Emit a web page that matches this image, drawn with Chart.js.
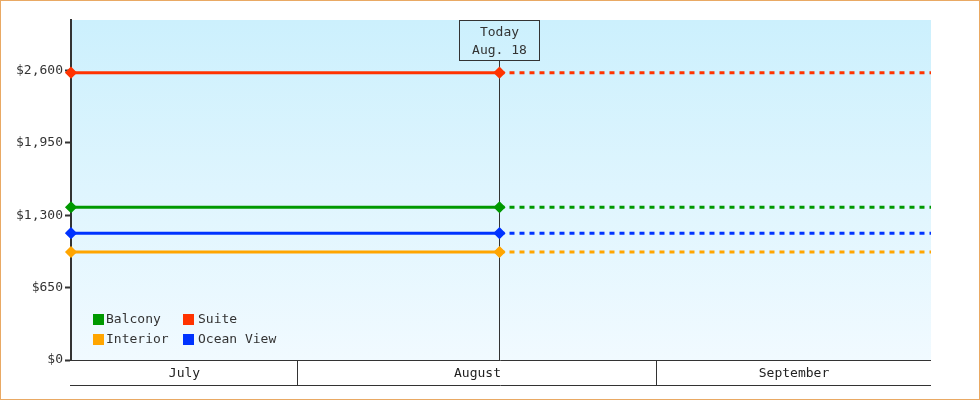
<!DOCTYPE html>
<html>
<head>
<meta charset="utf-8">
<script src="https://cdn.jsdelivr.net/npm/chart.js@4"></script>
<style>
html,body{margin:0;padding:0;background:#fff;}
#wrap{width:980px;height:400px;position:relative;}
</style>
</head>
<body>
<div id="wrap"><canvas id="c" width="980" height="400"></canvas></div>
<script>
// Days counted from July 1 (July 1 = 0)
const seriesNames = ['Balcony', 'Suite', 'Interior', 'Ocean View'];
const seriesColors = ['#009900', '#ff3300', '#ffa500', '#0033ff'];
const seriesValues = [1373, 2582, 970, 1140];
const rangeStartDay = 11.4;
const todayDay = 48.4;
const rangeEndDay = 85.66;
const monthNames = ['July', 'August', 'September'];
const monthStartDays = [0, 31, 62, 92];
const todayLabel = ['Today', 'Aug. 18'];
const yTicks = [0, 650, 1300, 1950, 2600];
const yMax = 3055;

const FONT = '"DejaVu Sans Mono", monospace';

const datasets = seriesNames.map((name, i) => ({
  label: name,
  data: [
    {x: rangeStartDay, y: seriesValues[i]},
    {x: todayDay, y: seriesValues[i]},
    {x: rangeEndDay, y: seriesValues[i]}
  ],
  borderColor: seriesColors[i],
  backgroundColor: seriesColors[i],
  pointBorderColor: seriesColors[i],
  borderWidth: 3,
  pointStyle: 'rectRot',
  pointRadius: [5, 5, 0],
  pointHoverRadius: [5, 5, 0],
  pointBorderWidth: 1.5,
  clip: false,
  fill: false,
  tension: 0,
  segment: {
    borderDash: ctx => ctx.p0.parsed.x >= todayDay ? [5, 5] : undefined
  }
}));
// draw order: lower lines first
const order = [2, 3, 0, 1];
const orderedDatasets = order.map(i => datasets[i]);

const decor = {
  id: 'decor',
  beforeDraw(chart) {
    const {ctx, chartArea: a} = chart;
    ctx.save();
    const g = ctx.createLinearGradient(0, a.top, 0, a.bottom);
    g.addColorStop(0, '#ccf0fd');
    g.addColorStop(1, '#f1faff');
    ctx.fillStyle = g;
    ctx.fillRect(a.left, a.top, a.right - a.left, a.bottom - a.top);
    ctx.restore();
  },
  beforeDatasetsDraw(chart) {
    const {ctx, chartArea: a, scales: {x}} = chart;
    const tx = Math.round(x.getPixelForValue(todayDay)) + 0.5;
    ctx.save();
    ctx.strokeStyle = '#333';
    ctx.lineWidth = 1;
    // today box
    const bw = 81, bh = 40;
    ctx.strokeRect(tx - 40, a.top + 0.5, bw - 1, bh);
    ctx.beginPath();
    ctx.moveTo(tx, a.top + bh);
    ctx.lineTo(tx, a.bottom);
    ctx.stroke();
    ctx.fillStyle = '#333';
    ctx.font = '13px ' + FONT;
    ctx.textAlign = 'center';
    ctx.textBaseline = 'middle';
    ctx.fillText(todayLabel[0], tx, a.top + 13);
    ctx.fillText(todayLabel[1], tx, a.top + 31);
    ctx.restore();
  },
  afterDraw(chart) {
    const {ctx, chartArea: a, scales: {x}} = chart;
    ctx.save();
    // month band
    ctx.strokeStyle = '#333';
    ctx.lineWidth = 1;
    const bandBottom = a.bottom + 25;
    ctx.beginPath();
    ctx.moveTo(a.left - 1, a.bottom + 0.5);
    ctx.lineTo(a.right, a.bottom + 0.5);
    ctx.moveTo(a.left - 1, bandBottom + 0.5);
    ctx.lineTo(a.right, bandBottom + 0.5);
    ctx.stroke();
    ctx.fillStyle = '#222';
    ctx.font = '13px ' + FONT;
    ctx.textAlign = 'center';
    ctx.textBaseline = 'middle';
    for (let m = 0; m < monthNames.length; m++) {
      const s = Math.max(monthStartDays[m], x.min);
      const e = Math.min(monthStartDays[m + 1], x.max);
      if (e <= s) continue;
      const px0 = x.getPixelForValue(s), px1 = x.getPixelForValue(e);
      if (monthStartDays[m] > x.min) {
        const sx = Math.round(px0) - 0.5;
        ctx.beginPath();
        ctx.moveTo(sx, a.bottom);
        ctx.lineTo(sx, bandBottom);
        ctx.stroke();
      }
      ctx.fillText(monthNames[m], (px0 + px1) / 2, a.bottom + 14);
    }
    // legend
    const legend = [[0, 1], [2, 3]];
    const textOffsets = [13, 15];
    ctx.textAlign = 'left';
    legend.forEach((row, r) => {
      row.forEach((si, c) => {
        const lx = a.left + 22 + c * 90;
        const ly = a.bottom - 40 + r * 20;
        ctx.fillStyle = seriesColors[si];
        ctx.fillRect(lx, ly - 6, 11, 11);
        ctx.fillStyle = '#333';
        ctx.fillText(seriesNames[si], lx + textOffsets[c], ly);
      });
    });
    // frame
    ctx.strokeStyle = '#e9a964';
    ctx.lineWidth = 1;
    ctx.strokeRect(0.5, 0.5, chart.width - 1, chart.height - 1);
    ctx.restore();
  }
};

new Chart(document.getElementById('c'), {
  type: 'line',
  data: {datasets: orderedDatasets},
  options: {
    responsive: false,
    animation: false,
    events: [],
    layout: {padding: {left: 0, top: 20, right: 49, bottom: 40}},
    plugins: {legend: {display: false}, tooltip: {enabled: false}},
    scales: {
      x: {
        type: 'linear',
        min: rangeStartDay,
        max: rangeEndDay,
        display: false
      },
      y: {
        type: 'linear',
        min: 0,
        max: yMax,
        afterBuildTicks(scale) { scale.ticks = yTicks.map(v => ({value: v})); },
        afterFit(scale) { scale.width = 71; },
        border: {display: true, color: '#333', width: 2},
        grid: {drawOnChartArea: false, drawTicks: true, tickLength: 6, tickWidth: 2, tickColor: '#333'},
        ticks: {
          color: '#333',
          padding: 2,
          font: {family: FONT, size: 13},
          callback: v => '$' + v.toLocaleString('en-US')
        }
      }
    }
  },
  plugins: [decor]
});
</script>
</body>
</html>
